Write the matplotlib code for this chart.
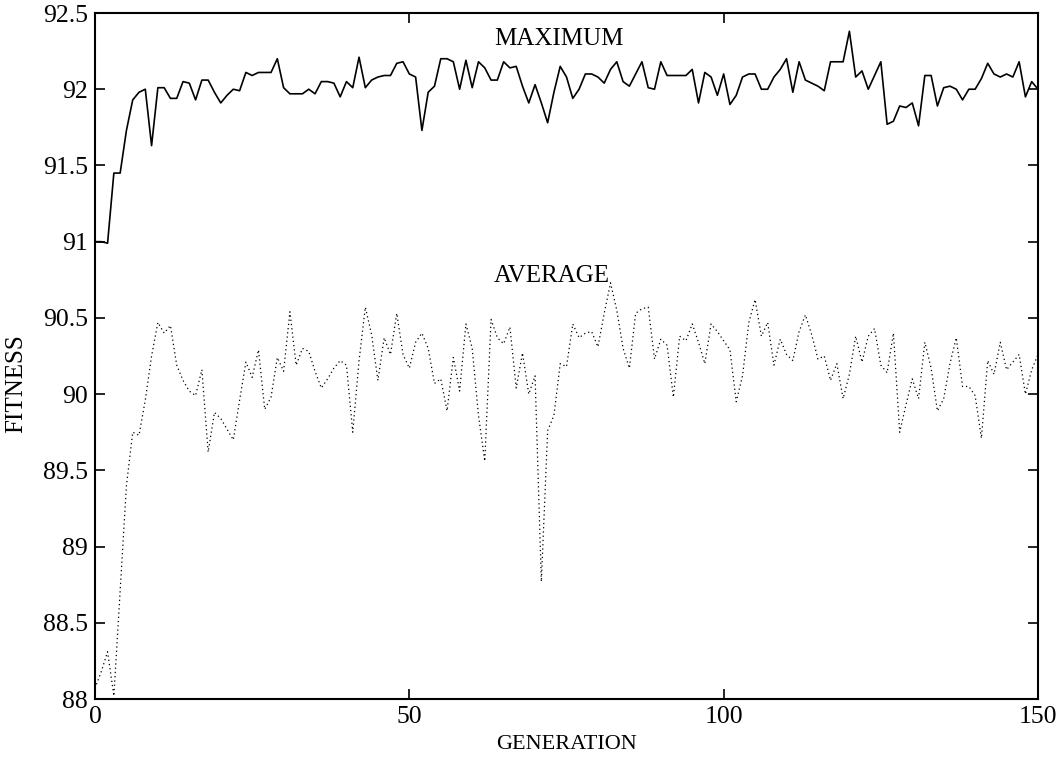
import matplotlib
matplotlib.use('Agg')
import matplotlib.pyplot as plt
import numpy as np

# generations 0..150
generation = np.arange(0, 151)

max_fitness = [
    91.00, 91.00, 90.99, 91.45, 91.45, 91.73, 91.93, 91.98, 92.00, 91.63,
    92.01, 92.01, 91.94, 91.94, 92.05, 92.04, 91.93, 92.06, 92.06, 91.98,
    91.91, 91.96, 92.00, 91.99, 92.11, 92.09, 92.11, 92.11, 92.11, 92.20,
    92.01, 91.97, 91.97, 91.97, 92.00, 91.97, 92.05, 92.05, 92.04, 91.95,
    92.05, 92.01, 92.21, 92.01, 92.06, 92.08, 92.09, 92.09, 92.17, 92.18,
    92.10, 92.08, 91.73, 91.98, 92.02, 92.20, 92.20, 92.18, 92.00, 92.19,
    92.01, 92.18, 92.14, 92.06, 92.06, 92.18, 92.14, 92.15, 92.02, 91.91,
    92.03, 91.91, 91.78, 91.98, 92.15, 92.08, 91.94, 92.00, 92.10, 92.10,
    92.08, 92.04, 92.13, 92.18, 92.05, 92.02, 92.10, 92.18, 92.01, 92.00,
    92.18, 92.09, 92.09, 92.09, 92.09, 92.13, 91.91, 92.11, 92.08, 91.96,
    92.10, 91.90, 91.96, 92.08, 92.10, 92.10, 92.00, 92.00, 92.08, 92.13,
    92.20, 91.98, 92.18, 92.06, 92.04, 92.02, 91.99, 92.18, 92.18, 92.18,
    92.38, 92.08, 92.12, 92.00, 92.09, 92.18, 91.77, 91.79, 91.89, 91.88,
    91.91, 91.76, 92.09, 92.09, 91.89, 92.01, 92.02, 92.00, 91.93, 92.00,
    92.00, 92.07, 92.17, 92.10, 92.08, 92.10, 92.08, 92.18, 91.95, 92.05,
    92.00,
]

avg_fitness = [
    88.07, 88.18, 88.31, 88.02, 88.71, 89.40, 89.75, 89.73, 89.96, 90.25,
    90.47, 90.40, 90.45, 90.19, 90.09, 90.02, 89.99, 90.16, 89.62, 89.88,
    89.84, 89.77, 89.70, 89.96, 90.21, 90.11, 90.29, 89.90, 89.98, 90.24,
    90.15, 90.54, 90.19, 90.30, 90.28, 90.15, 90.04, 90.10, 90.17, 90.22,
    90.19, 89.75, 90.22, 90.57, 90.39, 90.09, 90.37, 90.26, 90.53, 90.26,
    90.17, 90.34, 90.40, 90.30, 90.07, 90.10, 89.89, 90.24, 90.02, 90.46,
    90.30, 89.86, 89.56, 90.49, 90.37, 90.33, 90.44, 90.04, 90.27, 90.00,
    90.12, 88.77, 89.76, 89.86, 90.20, 90.18, 90.46, 90.37, 90.40, 90.41,
    90.31, 90.53, 90.73, 90.55, 90.30, 90.17, 90.53, 90.56, 90.57, 90.23,
    90.36, 90.32, 89.98, 90.38, 90.35, 90.46, 90.34, 90.20, 90.46, 90.41,
    90.35, 90.29, 89.95, 90.12, 90.47, 90.62, 90.38, 90.47, 90.19, 90.36,
    90.26, 90.22, 90.41, 90.52, 90.39, 90.23, 90.25, 90.09, 90.20, 89.97,
    90.13, 90.38, 90.21, 90.38, 90.43, 90.19, 90.14, 90.40, 89.75, 89.93,
    90.10, 89.97, 90.34, 90.17, 89.89, 89.97, 90.20, 90.37, 90.05, 90.05,
    89.99, 89.71, 90.22, 90.13, 90.34, 90.16, 90.21, 90.26, 90.00, 90.16,
    90.26,
]

x_ticks = [0, 50, 100, 150]
y_ticks = [88, 88.5, 89, 89.5, 90, 90.5, 91, 91.5, 92, 92.5]

plt.rcParams['font.family'] = ['Liberation Serif', 'DejaVu Serif']

fig = plt.figure(figsize=(10.6, 7.59), dpi=100)
ax = fig.add_axes([95 / 1060, 60 / 759, 943 / 1060, 686 / 759])

# solid line for best individual, dotted for the population mean
ax.plot(generation, max_fitness, color='black', linewidth=1.2)
ax.plot(generation, avg_fitness, color='black', linewidth=0.9,
        linestyle=(0, (1, 2.4)))

ax.text(63.5, 92.29, 'MAXIMUM', fontsize=18, ha='left', va='baseline')
ax.text(63.5, 90.735, 'AVERAGE', fontsize=18, ha='left', va='baseline')

ax.set_xlim(0, 150)
ax.set_ylim(88, 92.5)
ax.set_xticks(x_ticks)
ax.set_yticks(y_ticks)
ax.set_yticklabels(['%g' % t for t in y_ticks])
ax.tick_params(direction='in', top=True, right=True, length=7, width=1.2,
               labelsize=18.5, pad=5)
for side in ax.spines.values():
    side.set_linewidth(1.5)

ax.set_xlabel('GENERATION', fontsize=16, labelpad=5)
ax.set_ylabel('FITNESS', fontsize=18)
ax.yaxis.set_label_coords(-0.072, 0.46)

fig.savefig('out.png', dpi=100)
